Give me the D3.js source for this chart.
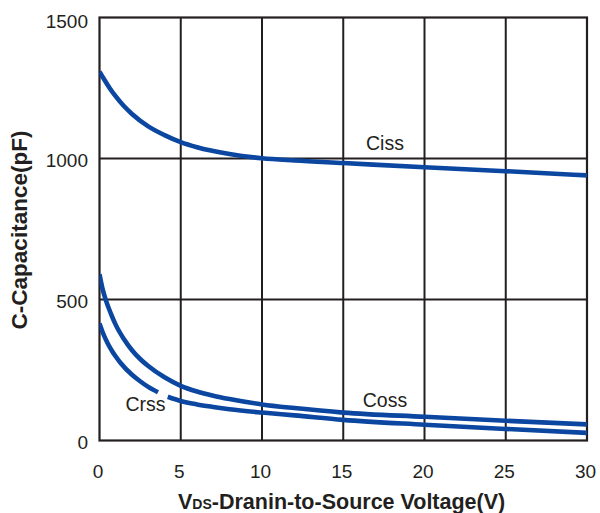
<!DOCTYPE html>
<html>
<head>
<meta charset="utf-8">
<script src="https://cdn.jsdelivr.net/npm/d3@7/dist/d3.min.js"></script>
<style>
  html, body { margin: 0; padding: 0; background: #fff; }
  svg { display: block; }
  text { font-family: "Liberation Sans", Arial, sans-serif; fill: #231f20; }
</style>
</head>
<body>
<svg id="chart" width="600" height="513"></svg>
<script>
// ---- data ----
const xTicks = [0, 5, 10, 15, 20, 25, 30];
const yTicks = [0, 500, 1000, 1500];

const cissV = [0, 0.3, 0.61, 1, 1.5, 2, 3, 4, 5, 6, 8, 10, 12, 15, 20, 25, 30];
const cissC = [1308, 1279, 1251, 1220, 1186, 1158, 1114, 1083, 1058, 1040, 1016, 1001, 993, 984, 969, 955, 940];

const cossV = [0, 0.2, 0.4, 0.7, 1, 1.5, 2, 2.5, 3, 4, 5, 6, 7, 8, 10, 12, 15, 20, 25, 30];
const cossC = [590, 535, 496, 450, 410, 360, 320, 289, 264, 224, 194, 174, 159, 147, 128, 115, 99, 84, 70, 57];

const crssV = [0, 0.2, 0.5, 0.8, 1, 1.3, 2, 2.5, 3, 3.6, 3.9, 4.2, 5, 6, 7, 8, 10, 12, 15, 20, 25, 30];
const crssC = [415, 383, 345, 315, 298, 275, 233, 210, 190, 171, null, 155, 140, 128, 119, 111, 99, 89, 73, 56, 41, 27];

const seriesLabels = ["Ciss", "Coss", "Crss"];

// ---- layout ----
const svg = d3.select("#chart");
const x = d3.scaleLinear().domain([0, 30]).range([99.5, 587]);
const y = d3.scaleLinear().domain([0, 1500]).range([440.5, 17.5]);
const ink = "#231f20";
const blue = "#0b46a0";

// grid
const g = svg.append("g");
g.selectAll(".vg").data(xTicks.slice(1, -1)).join("line")
  .attr("x1", d => x(d)).attr("x2", d => x(d))
  .attr("y1", y(0)).attr("y2", y(1500))
  .attr("stroke", ink).attr("stroke-width", 2);
g.selectAll(".hg").data(yTicks.slice(1, -1)).join("line")
  .attr("x1", x(0)).attr("x2", x(30))
  .attr("y1", d => y(d)).attr("y2", d => y(d))
  .attr("stroke", ink).attr("stroke-width", 2);
g.append("rect")
  .attr("x", x(0)).attr("y", y(1500))
  .attr("width", x(30) - x(0)).attr("height", y(0) - y(1500))
  .attr("fill", "none").attr("stroke", ink).attr("stroke-width", 2.2);

// axes labels (using d3 axes, with lines hidden)
const xAxis = svg.append("g")
  .attr("transform", `translate(-2,${y(0)})`)
  .call(d3.axisBottom(x).tickValues(xTicks).tickSize(0).tickPadding(0).tickFormat(d3.format("d")));
xAxis.select(".domain").remove();
xAxis.selectAll("text")
  .attr("y", 37).attr("dy", 0)
  .attr("font-size", "19px")
  .style("font-family", '"Liberation Sans", Arial, sans-serif')
  .attr("fill", ink);

const yAxis = svg.append("g")
  .attr("transform", `translate(88,0)`)
  .call(d3.axisLeft(y).tickValues(yTicks).tickSize(0).tickPadding(0).tickFormat(d3.format("d")));
yAxis.select(".domain").remove();
yAxis.selectAll("text")
  .attr("x", 0).attr("dy", d => d === 1500 ? 10 : 8)
  .attr("font-size", "19px")
  .style("font-family", '"Liberation Sans", Arial, sans-serif')
  .attr("fill", ink);

// curves
const line = d3.line()
  .defined(d => d[1] != null)
  .x(d => x(d[0])).y(d => y(d[1]))
  .curve(d3.curveMonotoneX);

const seriesData = [
  d3.zip(cissV, cissC),
  d3.zip(cossV, cossC),
  d3.zip(crssV, crssC)
];
svg.append("defs").append("clipPath").attr("id", "plot")
  .append("rect").attr("x", x(0)).attr("y", y(1500))
  .attr("width", x(30) - x(0)).attr("height", y(0) - y(1500));

svg.append("g").attr("clip-path", "url(#plot)")
  .selectAll("path").data(seriesData).join("path")
  .attr("d", line)
  .attr("fill", "none")
  .attr("stroke", blue)
  .attr("stroke-width", 4.6);

// series labels
const labelPos = [[385, 149.5], [385, 407], [145.5, 410.5]];
svg.selectAll(".slab").data(seriesLabels).join("text")
  .attr("x", (d, i) => labelPos[i][0])
  .attr("y", (d, i) => labelPos[i][1])
  .attr("text-anchor", "middle")
  .attr("font-size", "19.5px")
  .text(d => d);

// axis titles
const xt = svg.append("text")
  .attr("x", 178).attr("y", 509)
  .attr("font-weight", "bold")
  .attr("font-size", "21.5px");
xt.append("tspan").text("V");
xt.append("tspan").attr("font-size", "14px").text("DS");
xt.append("tspan").text("-Dranin-to-Source Voltage(V)");

svg.append("text")
  .attr("transform", "translate(26.5,230) rotate(-90)")
  .attr("text-anchor", "middle")
  .attr("font-weight", "bold")
  .attr("font-size", "22.5px")
  .text("C-Capacitance(pF)");
</script>
</body>
</html>
